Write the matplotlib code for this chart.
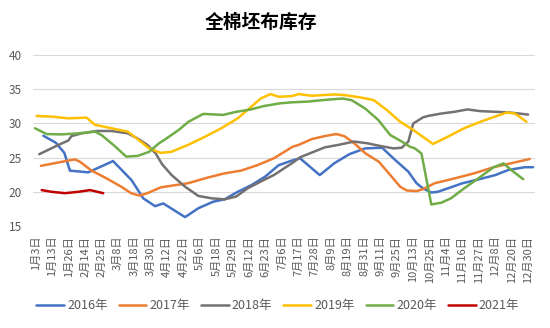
import matplotlib
matplotlib.use("Agg")
import matplotlib.pyplot as plt

plt.rcParams['font.family'] = ['Noto Sans CJK SC', 'DejaVu Sans']

title = "全棉坯布库存"
date_labels = ["1月3日", "1月13日", "1月26日", "2月14日", "2月25日", "3月8日", "3月18日",
               "3月30日", "4月12日", "4月22日", "5月6日", "5月18日", "5月29日", "6月12日",
               "6月23日", "7月6日", "7月17日", "7月28日", "8月9日", "8月19日", "8月31日",
               "9月11日", "9月25日", "10月13日", "10月25日", "11月4日", "11月16日",
               "11月27日", "12月8日", "12月20日", "12月30日"]

# positions are in units of the date labels above
x_2016 = [0.45, 1.2, 1.73, 2.07, 3.19, 4.7, 5.83, 6.54, 7.26, 7.76, 9.09, 9.9, 10.8, 11.5,
          12.3, 13.15, 13.96, 14.8, 15.7, 16.1, 17.3, 18.2, 19.1, 20.06, 21.1, 21.9, 22.7,
          23.2, 23.6, 24.1, 24.5, 25.1, 26.0, 27.2, 28.0, 28.8, 29.8, 30.3]
y_2016 = [28.2, 27.2, 25.7, 23.1, 22.85, 24.5, 21.7, 19.05, 17.9, 18.3, 16.3, 17.6, 18.55, 18.9,
          20.0, 21.0, 22.2, 23.9, 24.65, 24.9, 22.45, 24.2, 25.5, 26.35, 26.45, 24.65, 22.95,
          21.25, 20.5, 19.9, 20.0, 20.5, 21.25, 21.95, 22.45, 23.2, 23.6, 23.6]

x_2017 = [0.3, 2.37, 2.68, 3.39, 4.2, 5.2, 5.8, 6.3, 6.8, 7.6, 8.15, 9.26, 10.5, 11.5, 12.5,
          13.5, 14.5, 15.65, 16.0, 16.8, 17.6, 18.3, 18.8, 19.4, 20.1, 20.9, 21.6, 22.2, 22.6,
          23.2, 23.6, 24.3, 25.5, 26.7, 27.9, 29.1, 30.1]
y_2017 = [23.8, 24.75, 24.4, 23.1, 22.1, 20.75, 19.8, 19.45, 19.8, 20.65, 20.85, 21.25, 22.1,
          22.7, 23.1, 23.9, 24.9, 26.6, 26.85, 27.7, 28.15, 28.45, 28.15, 27.1, 25.6, 24.4,
          22.45, 20.75, 20.2, 20.1, 20.4, 21.25, 21.95, 22.7, 23.6, 24.25, 24.8]

x_2018 = [0.2, 1.36, 1.97, 2.17, 2.78, 3.69, 4.6, 5.6, 6.2, 6.8, 7.3, 7.7, 8.27, 9.09, 9.9,
          10.7, 11.5, 12.2, 12.9, 13.7, 14.5, 15.65, 16.1, 17.6, 18.4, 19.4, 20.2, 21.0, 21.8,
          22.3, 22.7, 23.0, 23.6, 23.9, 24.7, 25.5, 26.3, 27.1, 28.1, 28.9, 30.0]
y_2018 = [25.5, 26.85, 27.5, 28.15, 28.55, 28.9, 28.9, 28.55, 27.8, 26.85, 25.6, 24.0, 22.45,
          20.75, 19.4, 19.05, 18.9, 19.3, 20.5, 21.5, 22.45, 24.25, 25.05, 26.5, 26.85, 27.35,
          27.1, 26.7, 26.35, 26.45, 27.35, 30.0, 30.9, 31.1, 31.45, 31.7, 32.05, 31.8, 31.7,
          31.6, 31.3]

x_2019 = [0.04, 0.95, 1.97, 3.08, 3.6, 4.6, 5.6, 6.2, 6.9, 7.6, 8.25, 9.26, 10.3, 11.3, 12.3,
          13.1, 13.7, 14.3, 14.8, 15.6, 16.0, 16.8, 18.2, 18.8, 19.8, 20.6, 21.4, 22.2, 23.0,
          24.2, 25.1, 26.1, 27.1, 28.1, 28.7, 29.2, 29.9]
y_2019 = [31.1, 31.0, 30.75, 30.85, 29.8, 29.3, 28.8, 27.7, 26.35, 25.7, 25.85, 26.85, 28.05,
          29.3, 30.75, 32.4, 33.65, 34.3, 33.9, 34.0, 34.3, 34.05, 34.25, 34.15, 33.8, 33.4,
          31.95, 30.25, 29.05, 27.0, 28.05, 29.3, 30.25, 31.1, 31.6, 31.45, 30.25]

x_2020 = [-0.06, 0.65, 1.56, 2.57, 3.6, 4.0, 4.8, 5.5, 6.2, 6.9, 7.5, 7.8, 8.7, 9.3, 10.2, 11.4,
          12.2, 13.1, 13.9, 14.9, 15.65, 16.6, 17.4, 18.7, 19.25, 20.06, 20.87, 21.6, 22.3,
          22.8, 23.1, 23.5, 24.1, 24.7, 25.3, 26.1, 27.1, 27.9, 28.5, 29.1, 29.7]
y_2020 = [29.3, 28.45, 28.4, 28.55, 28.8, 28.3, 26.7, 25.15, 25.25, 25.85, 27.1, 27.55, 29.05,
          30.25, 31.4, 31.25, 31.7, 32.05, 32.55, 32.95, 33.1, 33.2, 33.4, 33.65, 33.4, 32.2,
          30.5, 28.3, 27.35, 26.6, 26.35, 25.6, 18.15, 18.4, 19.05, 20.5, 22.2, 23.6, 24.15,
          22.95, 21.85]

x_2021 = [0.35, 0.95, 1.77, 2.58, 3.3, 4.1]
y_2021 = [20.25, 20.0, 19.8, 20.0, 20.25, 19.8]

series = [
    ("2016年", x_2016, y_2016, "#4472C4"),
    ("2017年", x_2017, y_2017, "#ED7D31"),
    ("2018年", x_2018, y_2018, "#767171"),
    ("2019年", x_2019, y_2019, "#FFC000"),
    ("2020年", x_2020, y_2020, "#70AD47"),
    ("2021年", x_2021, y_2021, "#C00000"),
]

fig = plt.figure(figsize=(5.5, 3.28), dpi=100)
ax = fig.add_axes([0.06, 0.311, 0.913, 0.521])

for name, xs, ys, color in series:
    ax.plot(xs, ys, color=color, lw=1.8, label=name, solid_capstyle='round')

ax.set_xlim(-0.18, 30.43)
ax.set_ylim(15, 40)
ax.set_yticks([15, 20, 25, 30, 35, 40])
ax.set_xticks(range(len(date_labels)))
ax.set_xticklabels(date_labels, rotation=90, fontsize=8, color="#595959")
ax.tick_params(axis='y', labelsize=8.5, labelcolor="#595959", length=0, pad=8)
ax.tick_params(axis='x', length=0, pad=7)
ax.grid(axis='y', color="#D9D9D9", lw=0.8)
ax.set_axisbelow(True)
for s in ax.spines.values():
    s.set_visible(False)

fig.text(0.475, 0.933, title, ha='center', va='center', fontsize=13.5, fontweight='bold')
fig.legend(loc='center', bbox_to_anchor=(0.505, 0.068), ncol=6, frameon=False,
           fontsize=9, handlelength=2.2, handletextpad=0.25, columnspacing=0.9,
           labelcolor="#595959")

fig.savefig("out.png", dpi=100)
